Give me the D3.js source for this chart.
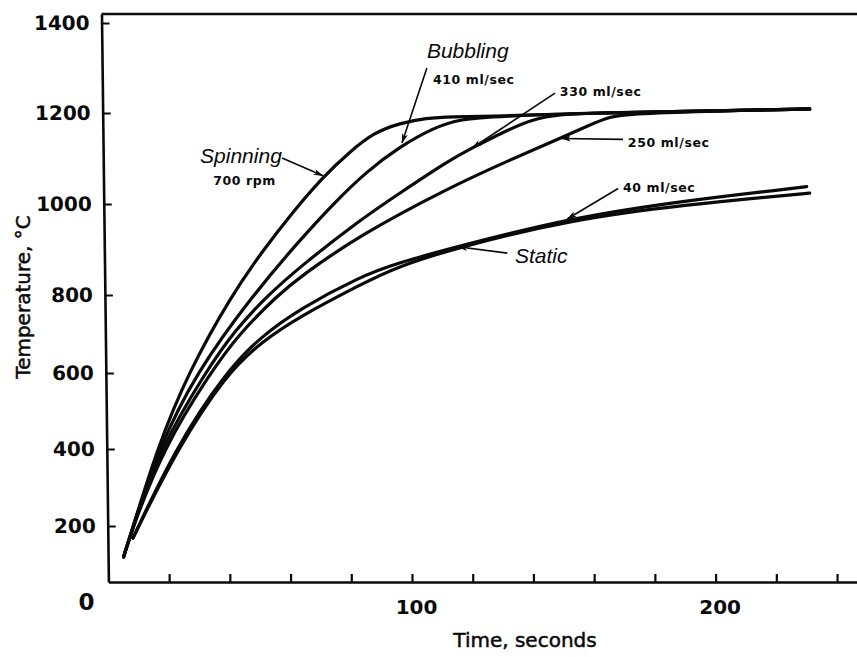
<!DOCTYPE html>
<html>
<head>
<meta charset="utf-8">
<script src="https://cdn.jsdelivr.net/npm/d3@7"></script>
<style>
  body { margin: 0; background: #fff; }
  svg { display: block; background: #fff; }
</style>
</head>
<body>
<svg id="chart" width="857" height="657"></svg>
<script>
// ---- data: [time (s), temperature (°C)] ----
const timeTicks = [20, 40, 60, 80, 100, 120, 140, 160, 180, 200, 220, 240];
const timeTickLabels = [100, 200];
const tempTicks = [200, 400, 600, 800, 1000, 1200, 1400];

const spinning700rpm = [[5,120],[8.2,200],[16,400],[26.2,600],[40.6,800],[50.6,895],[60.4,980],
  [71.3,1064],[79.6,1115],[87.2,1156],[96,1178],[104.9,1189],[112.5,1192],[129,1193],
  [158.6,1200],[194.9,1204],[231,1209]];
const bubbling410 = [[5,120],[8.2,200],[16.5,400],[28.8,600],[47.6,800],[63.1,921],[74,1000],
  [85.1,1072],[96,1126],[106.9,1167],[115.8,1187],[129,1193],[158.6,1200],[194.9,1204],[231,1209]];
const bubbling330 = [[5,120],[8.2,200],[17,400],[31.8,600],[41.7,710],[52.2,797],[63.1,862],
  [82.9,965],[96,1024],[112.5,1097],[119.8,1123],[130.6,1160],[139.9,1187],[148.7,1197],
  [158.6,1200],[194.9,1204],[231,1209]];
const bubbling250 = [[5,120],[8.2,200],[18,400],[33.5,600],[43.3,703],[55.9,800],[63.1,840],
  [82.9,932],[112.5,1037],[132.3,1097],[148.7,1144],[158.6,1174],[165.2,1192],[171.8,1198],
  [194.9,1204],[231,1209]];
const bubbling40 = [[8.1,169],[21.9,400],[38.4,600],[50,692],[63.1,765],[82.8,840],[95,870],
  [115.8,908],[152,969],[189.2,1007],[230,1038]];
const staticBath = [[8.1,169],[22.6,400],[39.1,600],[50.5,680],[63.1,745],[82.8,822],[95,862],
  [115.8,906],[152,965],[189.2,998],[231,1024]];

const seriesList = [spinning700rpm, bubbling410, bubbling330, bubbling250, bubbling40, staticBath];

// annotation labels: text, anchor [time, temp], style
const labelTexts = ["Bubbling", "410 ml/sec", "330 ml/sec", "250 ml/sec", "40 ml/sec", "Spinning", "700 rpm", "Static"];
const labelAnchors = [[104.9,1322],[106.9,1264],[148.7,1238],[171.1,1125],[169.5,1026],[30.2,1090],[34.5,1042],[133.9,870]];
const labelKinds = ["name","rate","rate","rate","rate","name","rate","name"];

// leader arrows: tail -> tip, in data units
const arrowTails = [[57.2,1101],[104.9,1300],[147.1,1244],[169.5,1142],[167.9,1034],[131.4,892]];
const arrowTips  = [[70.7,1062],[96.7,1134],[119.8,1123],[149.1,1144],[151.1,967],[115.1,906]];

// ---- layout ----
const W = 857, H = 657;
const plotLeft = 108.4, plotBottom = 582, plotTop = 14;
const svg = d3.select("#chart");

const x = d3.scaleLinear().domain([0, 247]).range([plotLeft, plotLeft + 247 * 3.036]);
// the printed temperature axis has unevenly spaced graduations; follow them piecewise
const y = d3.scaleLinear()
  .domain([55, 200, 400, 600, 800, 1000, 1200, 1400, 1420])
  .range([plotBottom, 526, 449, 373, 295, 204, 113, 23, plotTop]);

const ink = "#0a0a0a";

// arrowhead marker
svg.append("defs").append("marker")
  .attr("id", "arrowhead")
  .attr("viewBox", "0 0 10 6")
  .attr("refX", 9.5).attr("refY", 3)
  .attr("markerWidth", 10).attr("markerHeight", 6)
  .attr("markerUnits", "userSpaceOnUse")
  .attr("orient", "auto")
  .append("path").attr("d", "M0,0 L10,3 L0,6 L2.5,3 Z").attr("fill", ink);

// ---- axes ----
const skew = 0.7; // the vertical axis leans slightly
const gy = svg.append("g")
  .attr("transform", `translate(${x(0)},${plotBottom}) skewX(${skew}) translate(0,${-plotBottom})`)
  .call(d3.axisLeft(y).tickValues(tempTicks).tickFormat(d3.format("d"))
    .tickSizeInner(-8).tickSizeOuter(0).tickPadding(12));
gy.select(".domain").attr("stroke", ink).attr("stroke-width", 2.6);
gy.selectAll(".tick line").attr("stroke", ink).attr("stroke-width", 2.2);
gy.selectAll(".tick text")
  .attr("font-family", "DejaVu Sans").attr("font-weight", "bold").attr("font-size", 20)
  .attr("fill", ink);
gy.attr("font-family", null).attr("font-size", null);

const gx = svg.append("g")
  .attr("transform", `translate(0,${plotBottom})`)
  .call(d3.axisBottom(x).tickValues(timeTicks).tickSizeInner(-8).tickSizeOuter(0).tickPadding(18)
    .tickFormat(d => timeTickLabels.includes(d) ? String(d) : ""));
gx.select(".domain").attr("stroke", ink).attr("stroke-width", 2.6);
gx.selectAll(".tick line").attr("stroke", ink).attr("stroke-width", 2.2);
gx.selectAll(".tick text")
  .attr("font-family", "DejaVu Sans").attr("font-weight", "bold").attr("font-size", 20)
  .attr("dx", 4).attr("fill", ink);
gx.attr("font-family", null).attr("font-size", null);

// origin label
svg.append("text")
  .attr("x", x(0) - 22).attr("y", plotBottom + 28)
  .attr("text-anchor", "middle")
  .attr("font-family", "DejaVu Sans").attr("font-weight", "bold").attr("font-size", 23)
  .attr("fill", ink).text("0");

// top frame line
svg.append("line")
  .attr("x1", x(0) - (plotBottom - plotTop) * Math.tan(skew * Math.PI / 180)).attr("y1", plotTop)
  .attr("x2", W).attr("y2", plotTop)
  .attr("stroke", ink).attr("stroke-width", 2.6);

// axis titles
svg.append("text")
  .attr("transform", `translate(30,297) rotate(-90)`)
  .attr("text-anchor", "middle")
  .attr("font-family", "DejaVu Sans").attr("font-size", 20)
  .attr("fill", ink).attr("stroke", ink).attr("stroke-width", 0.5)
  .text("Temperature, °C");

svg.append("text")
  .attr("x", 525).attr("y", 647)
  .attr("text-anchor", "middle")
  .attr("font-family", "DejaVu Sans").attr("font-size", 20)
  .attr("fill", ink).attr("stroke", ink).attr("stroke-width", 0.5)
  .text("Time, seconds");

// ---- curves ----
const line = d3.line()
  .x(d => x(d[0]))
  .y(d => y(d[1]))
  .curve(d3.curveBasis);

svg.append("g").selectAll("path")
  .data(seriesList)
  .join("path")
  .attr("d", line)
  .attr("fill", "none")
  .attr("stroke", ink)
  .attr("stroke-width", 3.2)
  .attr("stroke-linecap", "round")
  .attr("stroke-linejoin", "round");

// ---- leader arrows ----
svg.append("g").selectAll("line")
  .data(arrowTails.map((t, i) => [t, arrowTips[i]]))
  .join("line")
  .attr("x1", d => x(d[0][0])).attr("y1", d => y(d[0][1]))
  .attr("x2", d => x(d[1][0])).attr("y2", d => y(d[1][1]))
  .attr("stroke", ink).attr("stroke-width", 1.6)
  .attr("marker-end", "url(#arrowhead)");

// ---- labels ----
svg.append("g").selectAll("text")
  .data(labelTexts.map((t, i) => ({ text: t, at: labelAnchors[i], kind: labelKinds[i] })))
  .join("text")
  .attr("x", d => x(d.at[0])).attr("y", d => y(d.at[1]))
  .attr("font-family", d => d.kind === "name" ? "Liberation Sans" : "DejaVu Sans")
  .attr("font-style", d => d.kind === "name" ? "italic" : "normal")
  .attr("font-weight", d => d.kind === "name" ? "normal" : "bold")
  .attr("font-size", d => d.kind === "name" ? 21 : 12.5)
  .attr("letter-spacing", d => d.kind === "name" ? 0 : 0.6)
  .attr("fill", ink)
  .text(d => d.text);
</script>
</body>
</html>
